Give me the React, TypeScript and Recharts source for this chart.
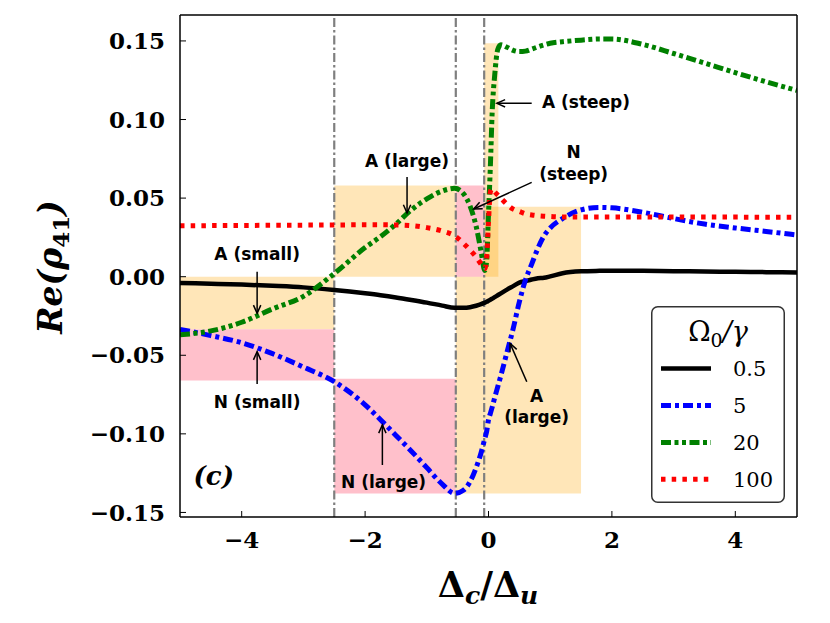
import {
  LineChart, Line, XAxis, YAxis, ReferenceArea, ReferenceLine, ReferenceDot, Legend
} from 'recharts';

// detuning grid (dense near the steep features around zero)
const detuning = [
  -5, -4.5, -4, -3.5, -3, -2.5, -2, -1.75, -1.5, -1.25, -1, -0.75, -0.55, -0.4, -0.3, -0.2,
  -0.12, -0.06, -0.03, 0, 0.03, 0.06, 0.1, 0.15, 0.2, 0.3, 0.4, 0.5, 0.6, 0.7, 0.8, 0.9,
  1.0, 1.2, 1.5, 1.8, 2.0, 2.5, 3, 3.5, 4, 4.5, 5,
];

const re05 = [
  -0.004, -0.0045, -0.005, -0.0058, -0.0068, -0.0085, -0.0106, -0.0118, -0.0132, -0.0148, -0.0165, -0.0184, -0.0198, -0.0198, -0.0194, -0.0185,
  -0.0175, -0.0165, -0.016, -0.0153, -0.0147, -0.014, -0.013, -0.0118, -0.0106, -0.0082, -0.006, -0.0038, -0.0028, -0.0018, -0.001, -0.0007,
  0.0002, 0.0022, 0.0034, 0.0037, 0.0038, 0.0037, 0.0035, 0.0033, 0.0031, 0.0029, 0.0027,
];

const re5 = [
  -0.0335, -0.0375, -0.042, -0.049, -0.0575, -0.0668, -0.0815, -0.091, -0.101, -0.111, -0.1215, -0.132, -0.1378, -0.1357, -0.1305, -0.1215,
  -0.112, -0.103, -0.0985, -0.091, -0.087, -0.083, -0.077, -0.07, -0.063, -0.048, -0.033, -0.016, -0.002, 0.008, 0.018, 0.026,
  0.031, 0.037, 0.0425, 0.0441, 0.0438, 0.041, 0.037, 0.0335, 0.031, 0.0288, 0.0265,
];

const re20 = [
  -0.037, -0.0345, -0.029, -0.0205, -0.0125, 0.002, 0.0185, 0.0255, 0.0335, 0.0425, 0.0495, 0.0545, 0.0562, 0.0525, 0.045, 0.032,
  0.016, 0.004, 0.01, 0.04, 0.07, 0.105, 0.128, 0.1445, 0.1475, 0.146, 0.144, 0.1432, 0.1435, 0.1448, 0.1462, 0.1475,
  0.1485, 0.1495, 0.1505, 0.1512, 0.1512, 0.1478, 0.142, 0.136, 0.1298, 0.124, 0.1185,
];

const re100 = [
  0.0324, 0.0325, 0.0326, 0.0327, 0.0328, 0.0329, 0.033, 0.033, 0.0329, 0.0325, 0.0312, 0.029, 0.026, 0.021, 0.017, 0.0125,
  0.008, 0.005, 0.012, 0.035, 0.054, 0.056, 0.054, 0.052, 0.05, 0.046, 0.043, 0.0415, 0.04, 0.0393, 0.0388, 0.0385,
  0.0383, 0.038, 0.038, 0.038, 0.038, 0.038, 0.038, 0.0379, 0.0379, 0.0378, 0.0378,
];

const xTicks = [-4, -2, 0, 2, 4];
const yTicks = [-0.15, -0.1, -0.05, 0, 0.05, 0.1, 0.15];
const regionBounds = [-2.5, -0.53, -0.07];

// shaded regions: A = absorption (orange), N = normal (pink)
const regions = [
  { kind: 'A', x1: -5, x2: -2.5, y1: -0.0335, y2: 0 },
  { kind: 'A', x1: -2.5, x2: -0.53, y1: 0, y2: 0.058 },
  { kind: 'A', x1: -0.53, x2: 1.5, y1: -0.138, y2: 0.0445 },
  { kind: 'A', x1: -0.07, x2: 0.16, y1: 0, y2: 0.1485 },
  { kind: 'N', x1: -5, x2: -2.5, y1: -0.066, y2: -0.0335 },
  { kind: 'N', x1: -2.5, x2: -0.53, y1: -0.138, y2: -0.065 },
  { kind: 'N', x1: -0.53, x2: -0.07, y1: 0, y2: 0.058 },
];

const notes = [
  { lines: ['A (small)'], x: -3.75, y: 0.0106, from: [-3.75, 0.0032], to: [-3.75, -0.0233] },
  { lines: ['N (small)'], x: -3.75, y: -0.0837, from: [-3.75, -0.0683], to: [-3.75, -0.0477] },
  { lines: ['A (large)'], x: -1.32, y: 0.07, from: [-1.32, 0.0634], to: [-1.32, 0.0405] },
  { lines: ['N (large)'], x: -1.7, y: -0.1346, from: [-1.72, -0.1198], to: [-1.72, -0.0943] },
  { lines: ['A', '(large)'], x: 0.78, y: -0.0795, from: [0.62, -0.0668], to: [0.35, -0.0424] },
  { lines: ['A (steep)'], x: 1.58, y: 0.1071, from: [0.7, 0.1103], to: [0.136, 0.1103] },
  { lines: ['N', '(steep)'], x: 1.38, y: 0.0753, from: [0.7, 0.06], to: [-0.24, 0.0431] },
];

const series = [
  { key: 'r05', name: '0.5', color: '#000000', width: 4.5, dash: undefined as string | undefined },
  { key: 'r5', name: '5', color: '#0000ff', width: 5, dash: '10 4 4 4' },
  { key: 'r20', name: '20', color: '#008000', width: 5, dash: '10 3.5 4 3.5 4 3.5' },
  { key: 'r100', name: '100', color: '#ff0000', width: 5, dash: '4.5 6.2' },
];

const chartData = detuning.map((x, i) => ({
  x, r05: re05[i], r5: re5[i], r20: re20[i], r100: re100[i],
}));

const minus = (s: string) => s.replace('-', '\u2212');
const fmtY = (v: number) => minus(v.toFixed(2));
const fmtX = (v: number) => minus(String(v));

const tickFont = { fontFamily: 'DejaVu Serif', fontWeight: 'bold', fontSize: 23, fill: '#000' };
const noteFont = 'DejaVu Sans';
const frame = { stroke: '#000', strokeWidth: 1.5 };
const tickMark = { stroke: '#000', strokeWidth: 1 };

const ArrowShape = (props: any) => {
  const { x1, y1, x2, y2 } = props;
  const ang = Math.atan2(y2 - y1, x2 - x1);
  const L = 9;
  const w = 0.42;
  const a = [x2 - L * Math.cos(ang - w), y2 - L * Math.sin(ang - w)];
  const b = [x2 - L * Math.cos(ang + w), y2 - L * Math.sin(ang + w)];
  return (
    <g>
      <line x1={x1} y1={y1} x2={x2} y2={y2} stroke="#000" strokeWidth={1.5} />
      <polyline points={`${a[0]},${a[1]} ${x2},${y2} ${b[0]},${b[1]}`} fill="none" stroke="#000" strokeWidth={1.5} />
    </g>
  );
};

const noteText = (lines: string[]) => (props: any) => (
  <text x={props.cx} y={props.cy} textAnchor="middle" fontFamily={noteFont} fontWeight="bold" fontSize={17} fill="#000">
    {lines.map((t, i) => (
      <tspan key={i} x={props.cx} dy={i === 0 ? 0 : 21.6}>{t}</tspan>
    ))}
  </text>
);

const PanelTag = (props: any) => (
  <text x={props.cx} y={props.cy} fontFamily="DejaVu Serif" fontStyle="italic" fontWeight="bold" fontSize={26} fill="#000">(c)</text>
);

const XLabel = () => (
  <text x={488} y={597} textAnchor="middle" fontFamily="DejaVu Serif" fontWeight="bold" fontSize={35} fill="#000">
    Δ<tspan fontSize={25} fontStyle="italic" dy={7}>c</tspan>
    <tspan dy={-7}>/Δ</tspan>
    <tspan fontSize={25} fontStyle="italic" dy={7}>u</tspan>
  </text>
);

const YLabel = () => (
  <text x={0} y={0} transform="translate(62,267) rotate(-90)" textAnchor="middle" fontFamily="DejaVu Serif" fontStyle="italic" fontWeight="bold" fontSize={33} fill="#000">
    Re(ρ<tspan fontSize={23} fontStyle="normal" dy={7}>41</tspan>
    <tspan dy={-7}>)</tspan>
  </text>
);

// legend drawn in series order (the payload comes back sorted by name)
const LegendBox = () => (
  <svg width={134} height={197} style={{ display: 'block' }}>
    <rect x={0.75} y={0.75} width={132.5} height={195.5} rx={6} fill="#fff" stroke="#333" strokeWidth={1.5} />
    <text x={67} y={35} textAnchor="middle" fontFamily="DejaVu Serif" fontSize={27} fill="#000">
      Ω<tspan fontSize={19} dy={6}>0</tspan>
      <tspan dy={-6} fontStyle="italic">/γ</tspan>
    </text>
    {series.map((s, i) => {
      const y = 62.6 + i * 36.9;
      return (
        <g key={s.key}>
          <line x1={10} x2={60} y1={y} y2={y} stroke={s.color} strokeWidth={s.width} strokeDasharray={s.dash} />
          <text x={82} y={y + 7.5} fontFamily="DejaVu Serif" fontSize={21} fill="#000">{s.name}</text>
        </g>
      );
    })}
  </svg>
);

export default function App() {
  return (
    <div style={{ position: 'absolute', left: 0, top: 0, width: 830, height: 623, background: '#fff' }}>
      <LineChart width={830} height={623} data={chartData} margin={{ top: 14, right: 32, bottom: 0, left: 0 }}>
        <XAxis
          dataKey="x" type="number" domain={[-5, 5]} ticks={xTicks} allowDataOverflow
          tickFormatter={fmtX} tick={tickFont} height={106} tickSize={-6} tickMargin={21}
          axisLine={frame} tickLine={tickMark}
          label={{ content: XLabel }}
        />
        <XAxis
          xAxisId="top" orientation="top" dataKey="x" type="number" domain={[-5, 5]} ticks={xTicks}
          allowDataOverflow height={1} tick={false} tickSize={-6}
          axisLine={frame} tickLine={tickMark}
        />
        <YAxis
          type="number" domain={[-0.1529, 0.1665]} ticks={yTicks} allowDataOverflow
          tickFormatter={fmtY} tick={tickFont} width={180} tickSize={-6} tickMargin={21}
          axisLine={frame} tickLine={tickMark}
          label={{ content: YLabel }}
        />
        <YAxis
          yAxisId="right" orientation="right" type="number" domain={[-0.1529, 0.1665]} ticks={yTicks}
          allowDataOverflow width={1} tick={false} tickSize={-6}
          axisLine={frame} tickLine={tickMark}
        />

        {regions.map((r, i) => (
          <ReferenceArea
            key={`reg-${i}`} x1={r.x1} x2={r.x2} y1={r.y1} y2={r.y2}
            fill={r.kind === 'A' ? '#ffa500' : '#ffc0cb'}
            fillOpacity={r.kind === 'A' ? 0.28 : 1} stroke="none" ifOverflow="extendDomain"
          />
        ))}

        {regionBounds.map((x) => (
          <ReferenceLine key={`b-${x}`} x={x} stroke="#7f7f7f" strokeWidth={2.2} strokeDasharray="9 3 2.5 3" />
        ))}

        {series.map((s) => (
          <Line
            key={s.key} dataKey={s.key} name={s.name} type="monotone" stroke={s.color}
            strokeWidth={s.width} strokeDasharray={s.dash} dot={false} activeDot={false}
            isAnimationActive={false}
          />
        ))}

        {notes.map((n, i) => (
          <ReferenceLine
            key={`arr-${i}`}
            segment={[{ x: n.from[0], y: n.from[1] }, { x: n.to[0], y: n.to[1] }]}
            shape={ArrowShape}
          />
        ))}
        {notes.map((n, i) => (
          <ReferenceDot key={`txt-${i}`} x={n.x} y={n.y} r={0} shape={noteText(n.lines)} />
        ))}
        <ReferenceDot x={-4.78} y={-0.1326} r={0} shape={PanelTag} />

        <Legend
          layout="vertical" align="center" verticalAlign="middle" content={LegendBox}
          wrapperStyle={{ left: 651, top: 306, width: 134, height: 197, lineHeight: 0 }}
        />
      </LineChart>
    </div>
  );
}
